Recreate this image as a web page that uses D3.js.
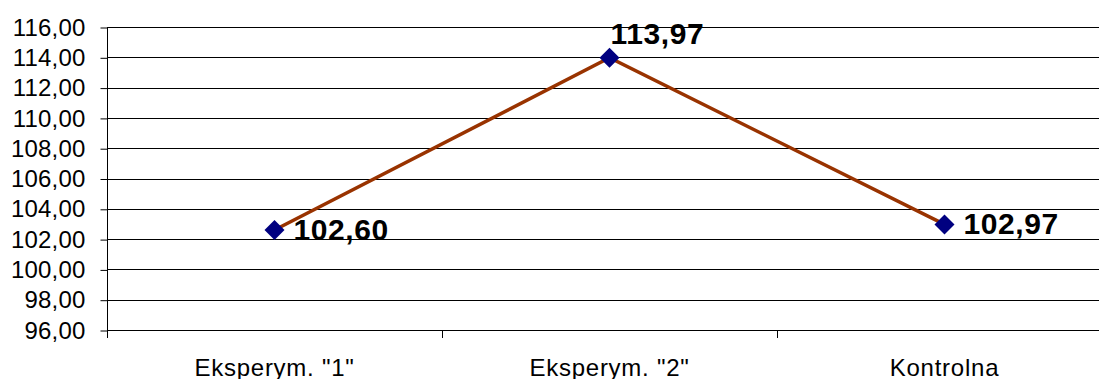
<!DOCTYPE html>
<html>
<head>
<meta charset="utf-8">
<script src="https://cdn.jsdelivr.net/npm/d3@7"></script>
<style>
html,body{margin:0;padding:0;background:#fff;}
svg{display:block;}
</style>
</head>
<body>
<svg id="chart" width="1099" height="379"></svg>
<script>
const categories = ["Eksperym. \"1\"", "Eksperym. \"2\"", "Kontrolna"];
const values = [102.60, 113.97, 102.97];
const yTicks = [96, 98, 100, 102, 104, 106, 108, 110, 112, 114, 116];
const labelPlacement = ["right", "above", "right"];

const svg = d3.select("#chart");
const mLeft = 107, mRight = 1112, mTop = 27, mBottom = 330;
const fmt = v => v.toFixed(2).replace(".", ",");

const x = d3.scaleBand().domain(categories).range([mLeft, mRight]);
const y = d3.scaleLinear().domain([96, 116]).range([mBottom, mTop]);

// gridlines
svg.append("g").selectAll("line").data(yTicks).join("line")
  .attr("x1", mLeft).attr("x2", mRight)
  .attr("y1", d => Math.round(y(d)) + 0.5).attr("y2", d => Math.round(y(d)) + 0.5)
  .attr("stroke", "#000").attr("stroke-width", 1);

// y axis
const yAxis = d3.axisLeft(y).tickValues(yTicks).tickSize(7).tickPadding(15).tickFormat(fmt);
const gy = svg.append("g").attr("transform", `translate(${mLeft + 0.5},0.5)`).call(yAxis);
gy.select(".domain").remove();
gy.selectAll(".tick line").attr("stroke", "#000");
gy.selectAll(".tick text").attr("font-family", "Liberation Sans, Arial, sans-serif")
  .attr("font-size", 24).attr("letter-spacing", 0.2).attr("fill", "#000");
svg.append("line").attr("x1", mLeft + 0.5).attr("x2", mLeft + 0.5)
  .attr("y1", mTop).attr("y2", mBottom + 8).attr("stroke", "#000");

// x axis
const xAxis = d3.axisBottom(x).tickSize(0).tickPadding(28);
const gx = svg.append("g").attr("transform", `translate(0,${Math.round(mBottom) + 0.5})`).call(xAxis);
gx.select(".domain").remove();
gx.selectAll(".tick text").attr("font-family", "Liberation Sans, Arial, sans-serif")
  .attr("font-size", 24).attr("letter-spacing", 0.75).attr("fill", "#000");
svg.append("g").selectAll("line").data(categories.slice(1)).join("line")
  .attr("x1", d => Math.round(x(d)) + 0.5).attr("x2", d => Math.round(x(d)) + 0.5)
  .attr("y1", mBottom).attr("y2", mBottom + 8).attr("stroke", "#000");

// line
const cx = (d, i) => x(categories[i]) + x.bandwidth() / 2;
const line = d3.line().x((d, i) => cx(d, i)).y(d => y(d));
svg.append("path").datum(values).attr("d", line)
  .attr("fill", "none").attr("stroke", "#993300").attr("stroke-width", 3.5);

// markers
const s = 10;
svg.append("g").selectAll("path").data(values).join("path")
  .attr("d", (d, i) => {
    const px = cx(d, i), py = y(d);
    return `M${px},${py - s}L${px + s},${py}L${px},${py + s}L${px - s},${py}Z`;
  })
  .attr("fill", "#000080");

// labels
svg.append("g").selectAll("text").data(values).join("text")
  .attr("x", (d, i) => labelPlacement[i] === "right" ? cx(d, i) + 19 : cx(d, i) + 1)
  .attr("y", (d, i) => labelPlacement[i] === "right" ? y(d) + 10 : y(d) - 14)
  .attr("font-family", "Liberation Sans, Arial, sans-serif")
  .attr("font-weight", "bold").attr("font-size", 30).attr("letter-spacing", 0.6).attr("fill", "#000")
  .text(fmt);
</script>
</body>
</html>
